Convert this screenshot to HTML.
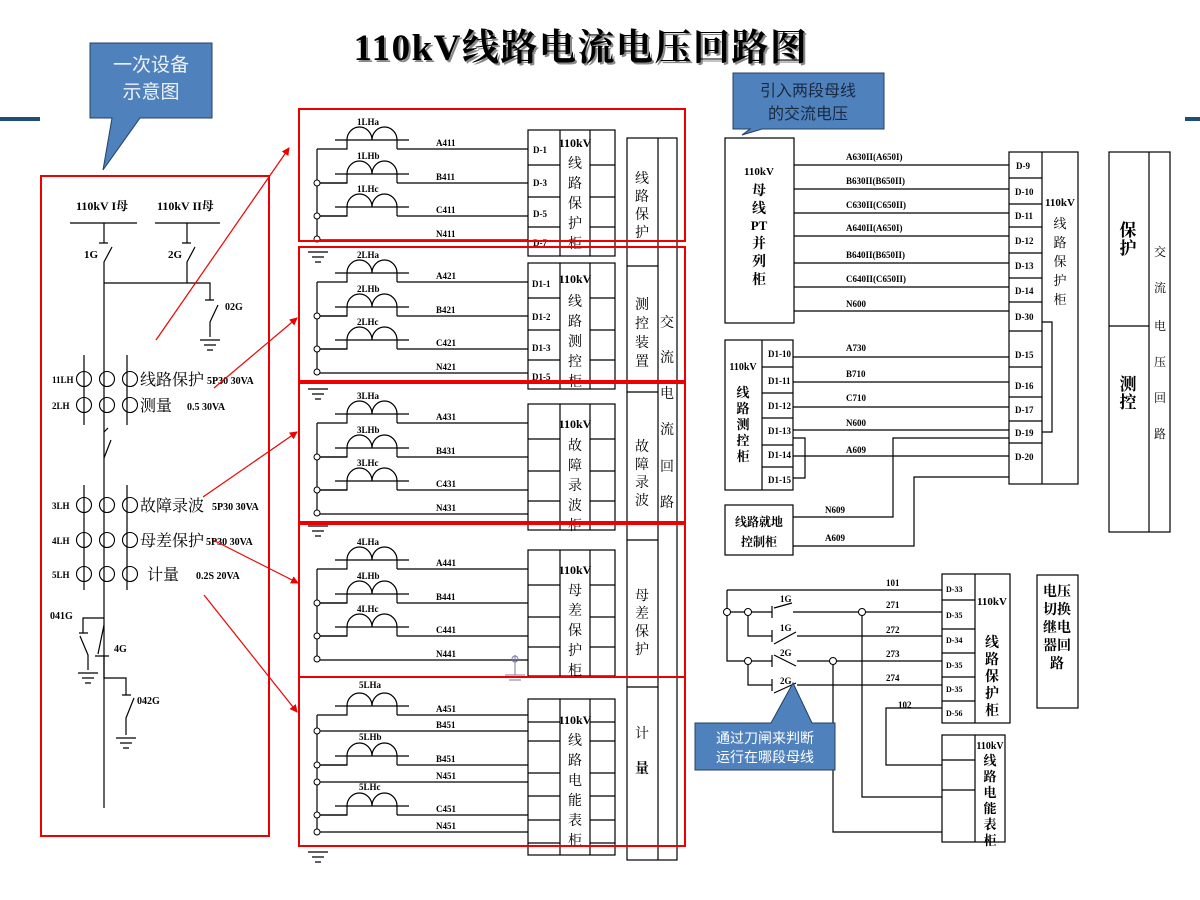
<!DOCTYPE html>
<html><head><meta charset="utf-8"><style>
html,body{margin:0;padding:0;background:#fff;}
svg{display:block;}
.s{font-family:"Liberation Serif","Noto Serif CJK SC",serif;}
.t{font-family:"Liberation Serif","Noto Serif CJK SC",serif;font-weight:bold;font-size:9px;fill:#000;}
.c{font-family:"Liberation Sans","Noto Sans CJK SC",sans-serif;}
</style></head><body>
<svg width="1200" height="900" viewBox="0 0 1200 900" xmlns="http://www.w3.org/2000/svg">
<defs>
<g id="ct" fill="none" stroke="#000" stroke-width="1.2">
<path d="M0 0 H30 V-9 M18 -9 H92 M80 -9 V0"/>
<path d="M30 -9 A12.5 13 0 0 1 55 -9 A12.5 13 0 0 1 80 -9"/>
</g>
<g id="gnd" stroke="#000" stroke-width="1.2"><path d="M-10 0 H10 M-6 5 H6 M-3 10 H3"/></g>
<marker id="ar" markerWidth="8" markerHeight="8" refX="7" refY="4" orient="auto" markerUnits="userSpaceOnUse"><path d="M0 0 L8 4 L0 8 z" fill="#e00"/></marker>
</defs>

<!-- title -->
<text x="581" y="60" text-anchor="middle" class="s" font-size="37" font-weight="bold" letter-spacing="1.5" fill="#888" transform="translate(2,2)">110kV线路电流电压回路图</text>
<text x="581" y="60" text-anchor="middle" class="s" font-size="37" font-weight="bold" letter-spacing="1.5" fill="#000">110kV线路电流电压回路图</text>
<rect x="0" y="117" width="40" height="4" fill="#1f4e79"/>
<rect x="1185" y="117" width="15" height="4" fill="#1f4e79"/>

<!-- callout 1 -->
<path d="M90 43 H212 V118 H140 L103 170 L112 118 H90 Z" fill="#4f81bd" stroke="#243f60" stroke-width="1"/>
<text x="151" y="71" text-anchor="middle" class="c" font-size="19" fill="#eef2f8">一次设备</text>
<text x="151" y="98" text-anchor="middle" class="c" font-size="19" fill="#eef2f8">示意图</text>

<!-- callout 2 -->
<path d="M733 73 H884 V129 H762 L742 135 L750 129 H733 Z" fill="#4f81bd" stroke="#243f60" stroke-width="1"/>
<text x="808" y="96" text-anchor="middle" class="c" font-size="16" fill="#1a2a40">引入两段母线</text>
<text x="808" y="119" text-anchor="middle" class="c" font-size="16" fill="#1a2a40">的交流电压</text>

<!-- left red box -->
<rect x="41" y="176" width="228" height="660" fill="none" stroke="#e00" stroke-width="2"/>
<g class="t" font-size="12">
<text x="76" y="210" font-size="12">110kV I母</text>
<text x="157" y="210" font-size="12">110kV II母</text>
<text x="84" y="258" font-size="11">1G</text>
<text x="168" y="258" font-size="11">2G</text>
<text x="225" y="310" font-size="10">02G</text>
</g>
<g stroke="#000" stroke-width="1.2" fill="none">
<path d="M70 223 H137 M155 223 H220"/>
<path d="M104 223 V243 M99 243 H108 M112 247 L104 262 V808"/>
<path d="M187 223 V243 M182 243 H191 M195 247 L187 262 V283 M104 283 H210 V300 M205 300 H214 M218 305 L210 322 V337"/>
<path d="M84 355 V425 M127 355 V425 M84 485 V590 M127 485 V590"/>
<path d="M104 432 L108 428 M111 440 L104 458"/>
<path d="M104 618 H83 V633 M79 633 H88 M80 636 L88 655 V670"/>
<path d="M104 625 L98 654 M95 656 H109 M104 656 V678 H126 V695 M122 695 H131 M134 698 L126 718 V735"/>
</g>
<use href="#gnd" x="210" y="340"/>
<use href="#gnd" x="88" y="673"/>
<use href="#gnd" x="126" y="738"/>
<g fill="none" stroke="#000" stroke-width="1.1">
<circle cx="84" cy="379" r="7.5"/><circle cx="107" cy="379" r="7.5"/><circle cx="130" cy="379" r="7.5"/>
<circle cx="84" cy="405" r="7.5"/><circle cx="107" cy="405" r="7.5"/><circle cx="130" cy="405" r="7.5"/>
<circle cx="84" cy="505" r="7.5"/><circle cx="107" cy="505" r="7.5"/><circle cx="130" cy="505" r="7.5"/>
<circle cx="84" cy="540" r="7.5"/><circle cx="107" cy="540" r="7.5"/><circle cx="130" cy="540" r="7.5"/>
<circle cx="84" cy="574" r="7.5"/><circle cx="107" cy="574" r="7.5"/><circle cx="130" cy="574" r="7.5"/>
</g>
<g class="s" fill="#000">
<text x="52" y="383" font-size="9" font-weight="bold">11LH</text>
<text x="52" y="409" font-size="9" font-weight="bold">2LH</text>
<text x="52" y="509" font-size="9" font-weight="bold">3LH</text>
<text x="52" y="544" font-size="9" font-weight="bold">4LH</text>
<text x="52" y="578" font-size="9" font-weight="bold">5LH</text>
<text x="140" y="385" font-size="16">线路保护</text><text x="207" y="384" font-size="10" font-weight="bold">5P30 30VA</text>
<text x="140" y="411" font-size="16">测量</text><text x="187" y="410" font-size="10" font-weight="bold">0.5 30VA</text>
<text x="140" y="511" font-size="16">故障录波</text><text x="212" y="510" font-size="10" font-weight="bold">5P30 30VA</text>
<text x="140" y="546" font-size="16">母差保护</text><text x="206" y="545" font-size="10" font-weight="bold">5P30 30VA</text>
<text x="147" y="580" font-size="16">计量</text><text x="196" y="579" font-size="10" font-weight="bold">0.2S 20VA</text>
<text x="50" y="619" font-size="10" font-weight="bold">041G</text>
<text x="114" y="652" font-size="10" font-weight="bold">4G</text>
<text x="137" y="704" font-size="10" font-weight="bold">042G</text>
</g>

<!-- red arrows -->
<g stroke="#e00" stroke-width="1.2" marker-end="url(#ar)">
<line x1="156" y1="340" x2="289" y2="148"/>
<line x1="214" y1="388" x2="297" y2="318"/>
<line x1="203" y1="497" x2="297" y2="432"/>
<line x1="213" y1="540" x2="298" y2="583"/>
<line x1="204" y1="595" x2="297" y2="712"/>
</g>

<!-- sections 1-4 -->
<g id="sec">
<g stroke="#000" stroke-width="1.2" fill="none">
<path d="M317 149 V240"/>
<path d="M397 149 H528 M397 183 H528 M397 216 H528 M317 240 H528"/>
<path d="M317 183 H347 M317 216 H347"/>
<rect x="528" y="130" width="87" height="126"/>
<path d="M560 130 V256 M590 130 V256 M528 165 H560 M590 165 H615 M528 197 H560 M590 197 H615 M528 227 H560 M590 227 H615"/>
</g>
<use href="#ct" x="317" y="149"/><use href="#ct" x="317" y="183"/><use href="#ct" x="317" y="216"/>
<g fill="#fff" stroke="#000" stroke-width="1"><circle cx="317" cy="183" r="3"/><circle cx="317" cy="216" r="3"/><circle cx="317" cy="239" r="3"/></g>
</g>
<use href="#sec" y="133"/>
<use href="#sec" y="274"/>
<use href="#sec" y="420"/>
<use href="#gnd" x="318" y="252"/>
<use href="#gnd" x="318" y="389"/>
<use href="#gnd" x="318" y="526"/>
<g stroke="#77a" stroke-width="1" fill="none"><path d="M515 655 V675 M505 675 H525 M509 680 H521"/><circle cx="515" cy="659" r="3"/></g>

<g class="t">
<text x="357" y="125">1LHa</text><text x="357" y="159">1LHb</text><text x="357" y="192">1LHc</text>
<text x="436" y="146">A411</text><text x="436" y="180">B411</text><text x="436" y="213">C411</text><text x="436" y="237">N411</text>
<text x="533" y="153">D-1</text><text x="533" y="186">D-3</text><text x="533" y="217">D-5</text><text x="533" y="246">D-7</text>
<text x="357" y="258">2LHa</text><text x="357" y="292">2LHb</text><text x="357" y="325">2LHc</text>
<text x="436" y="279">A421</text><text x="436" y="313">B421</text><text x="436" y="346">C421</text><text x="436" y="370">N421</text>
<text x="532" y="287">D1-1</text><text x="532" y="320">D1-2</text><text x="532" y="351">D1-3</text><text x="532" y="380">D1-5</text>
<text x="357" y="399">3LHa</text><text x="357" y="433">3LHb</text><text x="357" y="466">3LHc</text>
<text x="436" y="420">A431</text><text x="436" y="454">B431</text><text x="436" y="487">C431</text><text x="436" y="511">N431</text>
<text x="357" y="545">4LHa</text><text x="357" y="579">4LHb</text><text x="357" y="612">4LHc</text>
<text x="436" y="566">A441</text><text x="436" y="600">B441</text><text x="436" y="633">C441</text><text x="436" y="657">N441</text>
</g>
<g class="s" font-size="14" text-anchor="middle" fill="#000">
<text x="575" y="147" font-size="12" font-weight="bold">110kV</text>
<text x="575" y="168">线</text><text x="575" y="188">路</text><text x="575" y="208">保</text><text x="575" y="228">护</text><text x="575" y="248">柜</text>
<text x="575" y="283" font-size="12" font-weight="bold">110kV</text>
<text x="575" y="306">线</text><text x="575" y="326">路</text><text x="575" y="346">测</text><text x="575" y="366">控</text><text x="575" y="386">柜</text>
<text x="575" y="428" font-size="12" font-weight="bold">110kV</text>
<text x="575" y="450">故</text><text x="575" y="470">障</text><text x="575" y="490">录</text><text x="575" y="510">波</text><text x="575" y="530">柜</text>
<text x="575" y="574" font-size="12" font-weight="bold">110kV</text>
<text x="575" y="595">母</text><text x="575" y="615">差</text><text x="575" y="635">保</text><text x="575" y="655">护</text><text x="575" y="675">柜</text>
<text x="575" y="724" font-size="12" font-weight="bold">110kV</text>
<text x="575" y="745">线</text><text x="575" y="765">路</text><text x="575" y="785">电</text><text x="575" y="805">能</text><text x="575" y="825">表</text><text x="575" y="845">柜</text>
</g>

<!-- section 5 -->
<g stroke="#000" stroke-width="1.2" fill="none">
<path d="M317 715 V832"/>
<path d="M397 715 H528 M317 731 H528 M397 765 H528 M317 782 H528 M397 815 H528 M317 832 H528"/>
<path d="M317 765 H347 M317 815 H347"/>
<rect x="528" y="699" width="87" height="156"/>
<path d="M560 699 V855 M590 699 V855 M528 722 H560 M590 722 H615 M528 741 H560 M590 741 H615 M528 773 H560 M590 773 H615 M528 796 H560 M590 796 H615 M528 820 H560 M590 820 H615 M528 843 H560 M590 843 H615"/>
</g>
<use href="#ct" x="317" y="715"/><use href="#ct" x="317" y="765"/><use href="#ct" x="317" y="815"/>
<g fill="#fff" stroke="#000" stroke-width="1"><circle cx="317" cy="731" r="3"/><circle cx="317" cy="765" r="3"/><circle cx="317" cy="782" r="3"/><circle cx="317" cy="815" r="3"/><circle cx="317" cy="832" r="3"/></g>
<use href="#gnd" x="318" y="852"/>
<g class="t">
<text x="359" y="688">5LHa</text><text x="359" y="740">5LHb</text><text x="359" y="790">5LHc</text>
<text x="436" y="712">A451</text><text x="436" y="728">B451</text><text x="436" y="762">B451</text><text x="436" y="779">N451</text><text x="436" y="812">C451</text><text x="436" y="829">N451</text>
</g>

<!-- right column of middle -->
<g stroke="#000" stroke-width="1.2" fill="none">
<rect x="627" y="138" width="50" height="722"/>
<path d="M658 138 V860 M627 266 H658 M627 392 H658 M627 540 H658 M627 687 H658"/>
</g>
<g class="s" font-size="14" text-anchor="middle" fill="#000">
<text x="642" y="183">线</text><text x="642" y="201">路</text><text x="642" y="219">保</text><text x="642" y="237">护</text>
<text x="642" y="309">测</text><text x="642" y="328">控</text><text x="642" y="347">装</text><text x="642" y="366">置</text>
<text x="642" y="451">故</text><text x="642" y="469">障</text><text x="642" y="487">录</text><text x="642" y="505">波</text>
<text x="642" y="600">母</text><text x="642" y="618">差</text><text x="642" y="636">保</text><text x="642" y="654">护</text>
<text x="642" y="738">计</text><text x="642" y="773" font-weight="bold">量</text>
<text x="667" y="327">交</text><text x="667" y="362">流</text><text x="667" y="398">电</text><text x="667" y="434">流</text><text x="667" y="471">回</text><text x="667" y="507">路</text>
</g>

<!-- middle red boxes -->
<g fill="none" stroke="#e00" stroke-width="2">
<rect x="299" y="109" width="386" height="132"/>
<rect x="299" y="247" width="386" height="134"/>
<rect x="299" y="383" width="386" height="139"/>
<rect x="299" y="524" width="386" height="153"/>
<rect x="299" y="677" width="386" height="169"/>
</g>

<!-- right upper: PT panel -->
<g stroke="#000" stroke-width="1.2" fill="none">
<rect x="725" y="138" width="69" height="185"/>
<path d="M794 165 H1009 M794 189 H1009 M794 213 H1009 M794 236 H1009 M794 263 H1009 M794 287 H1009 M794 311 H1009"/>
<rect x="1009" y="152" width="69" height="332"/>
<path d="M1042 152 V484 M1009 178 H1042 M1009 204 H1042 M1009 227 H1042 M1009 253 H1042 M1009 278 H1042 M1009 302 H1042 M1009 331 H1042 M1009 367 H1042 M1009 397 H1042 M1009 421 H1042 M1009 443 H1042"/>
<path d="M1042 322 H1052 V432 H1042"/>
<rect x="725" y="340" width="68" height="150"/>
<path d="M762 340 V490 M762 367 H793 M762 393 H793 M762 418 H793 M762 445 H793 M762 467 H793"/>
<path d="M793 357 H1009 M793 382 H1009 M793 407 H1009 M793 430 H1009 M793 456 H1009"/>
<path d="M793 438 H805 V478 H793"/>
<path d="M1009 438 H893 V517 H793 M1009 477 H914 V546 H793"/>
<rect x="725" y="505" width="68" height="50"/>
</g>
<g class="t" font-size="8">
<text x="846" y="160">A630II(A650I)</text><text x="846" y="184">B630II(B650II)</text><text x="846" y="208">C630II(C650II)</text>
<text x="846" y="231">A640II(A650I)</text><text x="846" y="258">B640II(B650II)</text><text x="846" y="282">C640II(C650II)</text>
<text x="846" y="307">N600</text>
<text x="846" y="351">A730</text><text x="846" y="377">B710</text><text x="846" y="401">C710</text><text x="846" y="426">N600</text><text x="846" y="453">A609</text>
<text x="825" y="513">N609</text><text x="825" y="541">A609</text>
<text x="768" y="357">D1-10</text><text x="768" y="384">D1-11</text><text x="768" y="409">D1-12</text><text x="768" y="434">D1-13</text><text x="768" y="458">D1-14</text><text x="768" y="483">D1-15</text>
<text x="1016" y="169">D-9</text><text x="1015" y="195">D-10</text><text x="1015" y="219">D-11</text><text x="1015" y="244">D-12</text><text x="1015" y="269">D-13</text><text x="1015" y="294">D-14</text><text x="1015" y="320">D-30</text>
<text x="1015" y="358">D-15</text><text x="1015" y="389">D-16</text><text x="1015" y="413">D-17</text><text x="1015" y="436">D-19</text><text x="1015" y="460">D-20</text>
</g>
<g class="s" font-weight="bold" text-anchor="middle" fill="#000">
<text x="759" y="175" font-size="11">110kV</text>
<text x="759" y="195" font-size="14">母</text><text x="759" y="213" font-size="14">线</text><text x="759" y="230" font-size="13">PT</text><text x="759" y="248" font-size="14">并</text><text x="759" y="266" font-size="14">列</text><text x="759" y="284" font-size="14">柜</text>
<text x="743" y="370" font-size="10">110kV</text>
<text x="743" y="397" font-size="13">线</text><text x="743" y="413" font-size="13">路</text><text x="743" y="429" font-size="13">测</text><text x="743" y="445" font-size="13">控</text><text x="743" y="461" font-size="13">柜</text>
<text x="759" y="526" font-size="12">线路就地</text><text x="759" y="546" font-size="12">控制柜</text>
<text x="1060" y="206" font-size="11">110kV</text>
</g>
<g class="s" font-size="13" text-anchor="middle" fill="#000">
<text x="1060" y="228">线</text><text x="1060" y="247">路</text><text x="1060" y="266">保</text><text x="1060" y="285">护</text><text x="1060" y="304">柜</text>
</g>

<!-- far right -->
<g stroke="#000" stroke-width="1.2" fill="none">
<rect x="1109" y="152" width="61" height="380"/>
<path d="M1149 152 V532 M1109 326 H1149"/>
</g>
<g class="s" text-anchor="middle" fill="#000">
<text x="1128" y="236" font-size="17" font-weight="bold">保</text><text x="1128" y="254" font-size="17" font-weight="bold">护</text>
<text x="1128" y="390" font-size="17" font-weight="bold">测</text><text x="1128" y="408" font-size="17" font-weight="bold">控</text>
<text x="1160" y="256" font-size="12">交</text><text x="1160" y="292" font-size="12">流</text><text x="1160" y="330" font-size="12">电</text><text x="1160" y="366" font-size="12">压</text><text x="1160" y="402" font-size="12">回</text><text x="1160" y="438" font-size="12">路</text>
</g>

<!-- lower right switch panel -->
<g stroke="#000" stroke-width="1.2" fill="none">
<rect x="942" y="574" width="68" height="149"/>
<path d="M975 574 V723 M942 600 H975 M942 629 H975 M942 653 H975 M942 677 H975 M942 701 H975"/>
<path d="M727 590 H942 M727 590 V661 H772"/>
<path d="M727 612 H772 M772 606 V618 M774 608 L792 603 M793 612 H942"/>
<path d="M748 612 V636 H772 M772 630 V642 M774 644 L796 632 M797 636 H942"/>
<path d="M772 655 V667 M774 655 L796 666 M797 661 H942"/>
<path d="M748 661 V685 H772 M772 679 V691 M774 693 L796 683 M797 685 H942"/>
<path d="M942 708 H886 V765 H942"/>
<path d="M862 612 V797 H942 M833 661 V832 H942"/>
<rect x="942" y="735" width="63" height="107"/>
<path d="M975 735 V842 M942 760 H975 M942 790 H975"/>
<rect x="1037" y="575" width="41" height="133"/>
</g>
<g fill="#fff" stroke="#000" stroke-width="1"><circle cx="727" cy="612" r="3.5"/><circle cx="748" cy="612" r="3.5"/><circle cx="748" cy="661" r="3.5"/><circle cx="862" cy="612" r="3.5"/><circle cx="833" cy="661" r="3.5"/></g>
<g class="t">
<text x="886" y="586">101</text><text x="886" y="608">271</text><text x="886" y="633">272</text><text x="886" y="657">273</text><text x="886" y="681">274</text><text x="898" y="708">102</text>
<text x="780" y="602">1G</text><text x="780" y="631">1G</text><text x="780" y="656">2G</text><text x="780" y="684">2G</text>
<text x="946" y="592" font-size="8">D-33</text><text x="946" y="618" font-size="8">D-35</text><text x="946" y="643" font-size="8">D-34</text><text x="946" y="668" font-size="8">D-35</text><text x="946" y="692" font-size="8">D-35</text><text x="946" y="716" font-size="8">D-56</text>
</g>
<g class="s" font-weight="bold" text-anchor="middle" fill="#000">
<text x="992" y="605" font-size="11">110kV</text>
<text x="992" y="647" font-size="14">线</text><text x="992" y="664" font-size="14">路</text><text x="992" y="681" font-size="14">保</text><text x="992" y="698" font-size="14">护</text><text x="992" y="715" font-size="14">柜</text>
<text x="990" y="749" font-size="10">110kV</text>
<text x="990" y="765" font-size="13">线</text><text x="990" y="781" font-size="13">路</text><text x="990" y="797" font-size="13">电</text><text x="990" y="813" font-size="13">能</text><text x="990" y="829" font-size="13">表</text><text x="990" y="845" font-size="13">柜</text>
<text x="1057" y="596" font-size="14">电压</text><text x="1057" y="614" font-size="14">切换</text><text x="1057" y="632" font-size="14">继电</text><text x="1057" y="650" font-size="14">器回</text><text x="1057" y="668" font-size="14">路</text>
</g>

<!-- callout 3 -->
<path d="M695 723 H771 L793 683 L812 723 H835 V770 H695 Z" fill="#4f81bd" stroke="#243f60" stroke-width="1"/>
<text x="765" y="743" text-anchor="middle" class="c" font-size="14" fill="#fff">通过刀闸来判断</text>
<text x="765" y="762" text-anchor="middle" class="c" font-size="14" fill="#fff">运行在哪段母线</text>
</svg>
</body></html>
